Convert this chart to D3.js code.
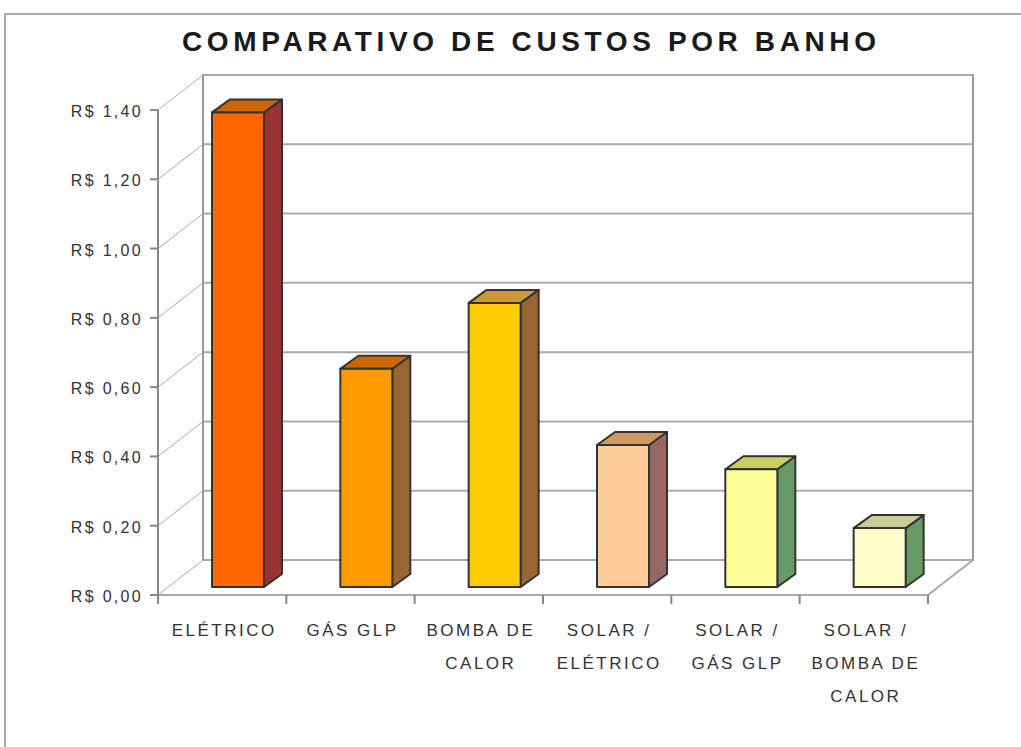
<!DOCTYPE html>
<html>
<head>
<meta charset="utf-8">
<script src="https://cdn.jsdelivr.net/npm/d3@7"></script>
<style>
  body { margin: 0; background: #fff; }
  text { font-family: "Liberation Sans", Arial, sans-serif; }
</style>
</head>
<body>
<div id="chart"></div>
<script>
const categories = [
  ["ELÉTRICO"],
  ["GÁS GLP"],
  ["BOMBA DE", "CALOR"],
  ["SOLAR /", "ELÉTRICO"],
  ["SOLAR /", "GÁS GLP"],
  ["SOLAR /", "BOMBA DE", "CALOR"]
];
const values = [1.37, 0.63, 0.82, 0.41, 0.34, 0.17];
const yTicks = [0, 0.2, 0.4, 0.6, 0.8, 1.0, 1.2, 1.4];
const frontColors = ["#FF6600", "#FF9900", "#FFCC00", "#FFCC99", "#FFFF99", "#FFFFCC"];
const sideColors = ["#993333", "#996633", "#996633", "#996666", "#669966", "#669966"];
const topColors = ["#CC6600", "#CC6600", "#CC9933", "#CC9966", "#CCCC66", "#CCCC99"];

const width = 1021, height = 747;
const svg = d3.select("#chart").append("svg")
  .attr("width", width).attr("height", height);

// outer frame
svg.append("path")
  .attr("d", `M5,${height} L5,14 L${width},14`)
  .attr("fill", "none").attr("stroke", "#aaa").attr("stroke-width", 2);

svg.append("text")
  .attr("x", 182).attr("y", 51)
  .attr("font-size", 28).attr("font-weight", "bold")
  .attr("fill", "#1a1a1a")
  .attr("textLength", 694).attr("lengthAdjust", "spacing")
  .text("COMPARATIVO DE CUSTOS POR BANHO");

const x = d3.scaleBand().domain(d3.range(categories.length)).range([158, 928]);
const y = d3.scaleLinear().domain([0, 1.4]).range([595, 110]);
const wallDx = 45, wallDy = -35;

const g = svg.append("g");

// back wall
g.append("rect")
  .attr("x", 158 + wallDx).attr("y", y(1.4) + wallDy)
  .attr("width", 928 - 158).attr("height", y(0) - y(1.4))
  .attr("fill", "#fff").attr("stroke", "#999").attr("stroke-width", 2);

// gridlines on back wall and side wall
yTicks.forEach(t => {
  g.append("line")
    .attr("x1", 158 + wallDx).attr("x2", 928 + wallDx)
    .attr("y1", y(t) + wallDy).attr("y2", y(t) + wallDy)
    .attr("stroke", "#aaa").attr("stroke-width", 2);
  g.append("line")
    .attr("x1", 158).attr("x2", 158 + wallDx)
    .attr("y1", y(t)).attr("y2", y(t) + wallDy)
    .attr("stroke", "#aaa").attr("stroke-width", 1);
});

// floor
g.append("path")
  .attr("d", `M158,${y(0)} L928,${y(0)} L${928 + wallDx},${y(0) + wallDy}`)
  .attr("fill", "none").attr("stroke", "#aaa").attr("stroke-width", 2);

// left axis
g.append("line")
  .attr("x1", 158).attr("x2", 158).attr("y1", y(1.4)).attr("y2", y(0) + 6)
  .attr("stroke", "#888").attr("stroke-width", 2);
g.append("line")
  .attr("x1", 158 + wallDx).attr("x2", 158 + wallDx)
  .attr("y1", y(1.4) + wallDy).attr("y2", y(0) + wallDy)
  .attr("stroke", "#999").attr("stroke-width", 2);

yTicks.forEach(t => {
  g.append("line")
    .attr("x1", 150).attr("x2", 158).attr("y1", y(t)).attr("y2", y(t))
    .attr("stroke", "#888").attr("stroke-width", 2);
  g.append("text")
    .attr("x", 143).attr("y", y(t) + 7)
    .attr("text-anchor", "end")
    .attr("font-size", 16).attr("fill", "#333")
    .attr("letter-spacing", 2.3)
    .text("R$ " + d3.format(".2f")(t).replace(".", ","));
});

// x ticks
d3.range(categories.length + 1).forEach(i => {
  const xx = 158 + i * x.bandwidth();
  g.append("line")
    .attr("x1", xx).attr("x2", xx).attr("y1", y(0)).attr("y2", y(0) + 9)
    .attr("stroke", "#888").attr("stroke-width", 2);
});

// x labels
categories.forEach((lines, i) => {
  const t = g.append("text")
    .attr("text-anchor", "middle")
    .attr("font-size", 17).attr("fill", "#333")
    .attr("letter-spacing", 2.5);
  lines.forEach((l, j) => {
    t.append("tspan")
      .attr("x", x(i) + x.bandwidth() / 2 + 2)
      .attr("y", 636 + j * 33)
      .text(l);
  });
});

// bars
const barOffset = 54, barW = 52, barFrontDy = -8;
const dDx = 18, dDy = -13;
values.forEach((v, i) => {
  const x0 = x(i) + barOffset;
  const x1 = x0 + barW;
  const yb = y(0) + barFrontDy;
  const yt = y(v) + barFrontDy;
  const bar = g.append("g")
    .attr("stroke", "#333").attr("stroke-width", 2).attr("stroke-linejoin", "round");
  bar.append("path")
    .attr("d", `M${x1},${yb} L${x1 + dDx},${yb + dDy} L${x1 + dDx},${yt + dDy} L${x1},${yt} Z`)
    .attr("fill", sideColors[i]);
  bar.append("path")
    .attr("d", `M${x0},${yt} L${x0 + dDx},${yt + dDy} L${x1 + dDx},${yt + dDy} L${x1},${yt} Z`)
    .attr("fill", topColors[i]);
  bar.append("rect")
    .attr("x", x0).attr("y", yt).attr("width", barW).attr("height", yb - yt)
    .attr("fill", frontColors[i]);
});
</script>
</body>
</html>
